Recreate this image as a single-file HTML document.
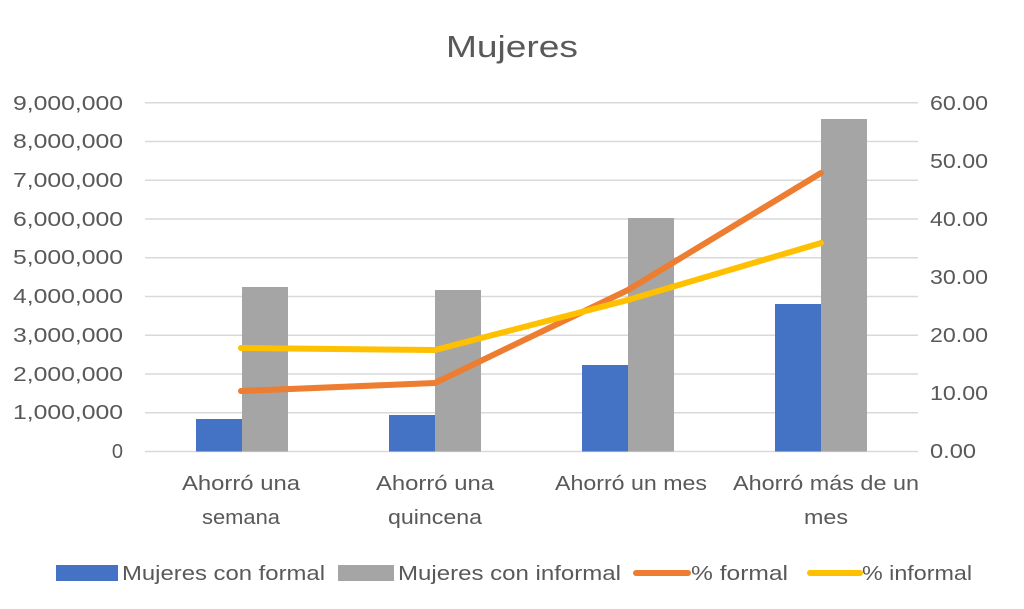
<!DOCTYPE html>
<html><head><meta charset="utf-8"><style>html,body{margin:0;padding:0;background:#fff}svg{display:block}</style></head>
<body>
<svg width="1024" height="609" viewBox="0 0 1024 609" xmlns="http://www.w3.org/2000/svg" font-family="Liberation Sans, sans-serif" fill="#595959">
<rect width="1024" height="609" fill="#fff"/>
<text x="512" y="57" font-size="31" text-anchor="middle" textLength="132" lengthAdjust="spacingAndGlyphs">Mujeres</text>
<g stroke="#d9d9d9" stroke-width="1.5">
<line x1="145" x2="918" y1="451.5" y2="451.5"/>
<line x1="145" x2="918" y1="412.8" y2="412.8"/>
<line x1="145" x2="918" y1="374" y2="374"/>
<line x1="145" x2="918" y1="335.3" y2="335.3"/>
<line x1="145" x2="918" y1="296.5" y2="296.5"/>
<line x1="145" x2="918" y1="257.8" y2="257.8"/>
<line x1="145" x2="918" y1="219" y2="219"/>
<line x1="145" x2="918" y1="180.3" y2="180.3"/>
<line x1="145" x2="918" y1="141.5" y2="141.5"/>
<line x1="145" x2="918" y1="102.8" y2="102.8"/>
</g>
<g font-size="20" text-anchor="end">
<text x="123" y="458">0</text>
<text x="123" y="419" textLength="110" lengthAdjust="spacingAndGlyphs">1,000,000</text>
<text x="123" y="381" textLength="110" lengthAdjust="spacingAndGlyphs">2,000,000</text>
<text x="123" y="342" textLength="110" lengthAdjust="spacingAndGlyphs">3,000,000</text>
<text x="123" y="303" textLength="110" lengthAdjust="spacingAndGlyphs">4,000,000</text>
<text x="123" y="264" textLength="110" lengthAdjust="spacingAndGlyphs">5,000,000</text>
<text x="123" y="226" textLength="110" lengthAdjust="spacingAndGlyphs">6,000,000</text>
<text x="123" y="187" textLength="110" lengthAdjust="spacingAndGlyphs">7,000,000</text>
<text x="123" y="148" textLength="110" lengthAdjust="spacingAndGlyphs">8,000,000</text>
<text x="123" y="110" textLength="110" lengthAdjust="spacingAndGlyphs">9,000,000</text>
</g>
<g font-size="20" text-anchor="start">
<text x="930" y="458" textLength="46" lengthAdjust="spacingAndGlyphs">0.00</text>
<text x="930" y="400" textLength="58" lengthAdjust="spacingAndGlyphs">10.00</text>
<text x="930" y="342" textLength="58" lengthAdjust="spacingAndGlyphs">20.00</text>
<text x="930" y="284" textLength="58" lengthAdjust="spacingAndGlyphs">30.00</text>
<text x="930" y="226" textLength="58" lengthAdjust="spacingAndGlyphs">40.00</text>
<text x="930" y="168" textLength="58" lengthAdjust="spacingAndGlyphs">50.00</text>
<text x="930" y="110" textLength="58" lengthAdjust="spacingAndGlyphs">60.00</text>
</g>
<g fill="#4472c4">
<rect x="196" y="419" width="46" height="32.5"/>
<rect x="389" y="415" width="46" height="36.5"/>
<rect x="582" y="365" width="46" height="86.5"/>
<rect x="775" y="304" width="46" height="147.5"/>
</g>
<g fill="#a5a5a5">
<rect x="242" y="287" width="46" height="164.5"/>
<rect x="435" y="290" width="46" height="161.5"/>
<rect x="628" y="218" width="46" height="233.5"/>
<rect x="821" y="119" width="46" height="332.5"/>
</g>
<polyline points="241,391 435,383 628,290 821,173" fill="none" stroke="#ed7d31" stroke-width="6" stroke-linecap="round" stroke-linejoin="round"/>
<polyline points="241,348 435,350 628,300 821,243" fill="none" stroke="#ffc000" stroke-width="6" stroke-linecap="round" stroke-linejoin="round"/>
<g font-size="20" text-anchor="middle">
<text x="241" y="490" textLength="118" lengthAdjust="spacingAndGlyphs">Ahorró una</text>
<text x="241" y="524" textLength="78" lengthAdjust="spacingAndGlyphs">semana</text>
<text x="435" y="490" textLength="118" lengthAdjust="spacingAndGlyphs">Ahorró una</text>
<text x="435" y="524" textLength="94" lengthAdjust="spacingAndGlyphs">quincena</text>
<text x="631" y="490" textLength="152" lengthAdjust="spacingAndGlyphs">Ahorró un mes</text>
<text x="826" y="490" textLength="186" lengthAdjust="spacingAndGlyphs">Ahorró más de un</text>
<text x="826" y="524" textLength="44" lengthAdjust="spacingAndGlyphs">mes</text>
</g>
<rect x="56" y="565" width="62" height="16" fill="#4472c4"/>
<text x="122" y="580" font-size="20" textLength="203" lengthAdjust="spacingAndGlyphs">Mujeres con formal</text>
<rect x="338" y="565" width="56" height="16" fill="#a5a5a5"/>
<text x="398" y="580" font-size="20" textLength="223" lengthAdjust="spacingAndGlyphs">Mujeres con informal</text>
<line x1="636" x2="688" y1="573" y2="573" stroke="#ed7d31" stroke-width="6" stroke-linecap="round"/>
<text x="691" y="580" font-size="20" textLength="97" lengthAdjust="spacingAndGlyphs">% formal</text>
<line x1="810" x2="860" y1="573" y2="573" stroke="#ffc000" stroke-width="6" stroke-linecap="round"/>
<text x="862" y="580" font-size="20" textLength="110" lengthAdjust="spacingAndGlyphs">% informal</text>
</svg>
</body></html>
